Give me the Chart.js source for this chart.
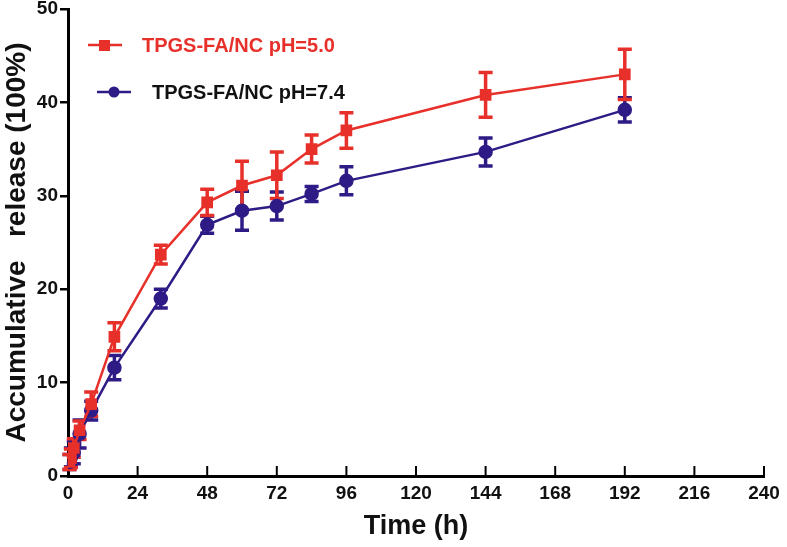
<!DOCTYPE html>
<html>
<head>
<meta charset="utf-8">
<script src="https://cdn.jsdelivr.net/npm/chart.js@4/dist/chart.umd.min.js"></script>
<style>
  html, body { margin: 0; padding: 0; background: #fff; }
  #wrap { width: 787px; height: 547px; }
</style>
</head>
<body>
<div id="wrap"><canvas id="chart" width="787" height="547"></canvas></div>
<script>
// sampling times (h) and cumulative release (%) with error bars
const hours   = [0.5, 1, 2, 4, 8, 16, 32, 48, 60, 72, 84, 96, 144, 192];
const ph50    = [1.5, 1.9, 3.0, 4.9, 7.7, 14.9, 23.7, 29.3, 31.1, 32.2, 35.0, 37.0, 40.8, 43.0];
const ph50Err = [0.8, 1.0, 1.0, 1.0, 1.3, 1.5, 1.0, 1.4, 2.6, 2.5, 1.5, 1.9, 2.4, 2.7];
const ph74    = [1.5, 2.0, 2.5, 4.5, 7.0, 11.6, 19.0, 26.9, 28.4, 28.9, 30.2, 31.6, 34.7, 39.2];
const ph74Err = [0.8, 1.0, 1.2, 1.5, 1.0, 1.3, 1.0, 0.9, 2.1, 1.5, 0.8, 1.5, 1.5, 1.3];
const xTicks  = [0, 24, 48, 72, 96, 120, 144, 168, 192, 216, 240];
const yTicks  = [0, 10, 20, 30, 40, 50];
const labels  = ['TPGS-FA/NC pH=5.0', 'TPGS-FA/NC pH=7.4'];

const RED = '#e8302a';
const BLUE = '#2f1b86';
const SANS = "'Liberation Sans', Arial, sans-serif";

function pts(ys){ return hours.map((h, i) => ({ x: h, y: ys[i] })); }

// vertical error bars drawn through the scales
const errorBars = {
  id: 'errorBars',
  beforeDatasetsDraw(chart){
    const { ctx, scales: { x, y } } = chart;
    chart.data.datasets.slice().reverse().forEach(ds => {
      ctx.save();
      ctx.strokeStyle = ds.borderColor;
      ctx.lineWidth = 3.5;
      ds.data.forEach((p, i) => {
        const e = ds.errors[i];
        const px = x.getPixelForValue(p.x);
        const top = y.getPixelForValue(p.y + e);
        const bot = y.getPixelForValue(p.y - e);
        ctx.beginPath();
        ctx.moveTo(px, top); ctx.lineTo(px, bot);
        ctx.moveTo(px - 7, top); ctx.lineTo(px + 7, top);
        ctx.moveTo(px - 7, bot); ctx.lineTo(px + 7, bot);
        ctx.stroke();
      });
      ctx.restore();
    });
  }
};

// inward x ticks + legend inside the plot
const extras = {
  id: 'extras',
  afterDraw(chart){
    const { ctx, scales: { x, y } } = chart;
    const y0 = y.getPixelForValue(0);
    ctx.save();
    ctx.strokeStyle = '#000';
    ctx.lineWidth = 2;
    xTicks.forEach(t => {
      if (t === 0) return;
      const px = x.getPixelForValue(t);
      ctx.beginPath(); ctx.moveTo(px, y0); ctx.lineTo(px, y0 - 10); ctx.stroke();
    });

    // legend
    ctx.lineWidth = 2.5;
    ctx.strokeStyle = RED;
    ctx.beginPath(); ctx.moveTo(88, 45); ctx.lineTo(122, 45); ctx.stroke();
    ctx.fillStyle = RED;
    ctx.fillRect(99, 40, 11, 11);
    ctx.font = "bold 20px " + SANS;
    ctx.textBaseline = 'middle';
    ctx.fillText(labels[0], 142, 46);

    ctx.strokeStyle = BLUE;
    ctx.beginPath(); ctx.moveTo(97, 92); ctx.lineTo(131, 92); ctx.stroke();
    ctx.fillStyle = BLUE;
    ctx.beginPath(); ctx.arc(114, 92, 5.5, 0, Math.PI * 2); ctx.fill();
    ctx.fillStyle = '#111';
    ctx.fillText(labels[1], 152, 93);
    ctx.restore();
  }
};

new Chart(document.getElementById('chart'), {
  type: 'line',
  data: {
    datasets: [
      {
        label: labels[0], data: pts(ph50), errors: ph50Err,
        borderColor: RED, backgroundColor: RED, borderWidth: 2.5,
        pointStyle: 'rect', pointRadius: 6.5, pointHoverRadius: 6.5
      },
      {
        label: labels[1], data: pts(ph74), errors: ph74Err,
        borderColor: BLUE, backgroundColor: BLUE, borderWidth: 2.5,
        pointStyle: 'circle', pointRadius: 6, pointHoverRadius: 6
      }
    ]
  },
  options: {
    responsive: false, animation: false,
    layout: { padding: { top: 9, right: 23, left: 0, bottom: 0 } },
    plugins: { legend: { display: false }, tooltip: { enabled: false } },
    scales: {
      x: {
        type: 'linear', min: 0, max: 240,
        afterBuildTicks: s => { s.ticks = xTicks.map(v => ({ value: v })); },
        afterFit: s => { s.height = 71; },
        grid: { display: false },
        border: { display: true, color: '#000', width: 3 },
        ticks: { color: '#111', padding: -2, font: { family: SANS, size: 19, weight: 'bold' } },
        title: { display: true, text: 'Time (h)', color: '#111', padding: { top: 8 },
                 font: { family: SANS, size: 27, weight: 'bold' } }
      },
      y: {
        min: 0, max: 50,
        afterBuildTicks: s => { s.ticks = yTicks.map(v => ({ value: v })); },
        afterFit: s => { s.width = 68; s.paddingTop = 0; },
        grid: { drawOnChartArea: false, drawTicks: true, tickLength: 8, color: '#000', lineWidth: 2.5 },
        border: { display: true, color: '#000', width: 3 },
        ticks: { color: '#111', padding: 2, font: { family: SANS, size: 19, weight: 'bold' } },
        title: { display: true, text: 'Accumulative   release (100%)', color: '#111', padding: 0,
                 font: { family: SANS, size: 28, weight: 'bold' } }
      }
    }
  },
  plugins: [errorBars, extras]
});
</script>
</body>
</html>
